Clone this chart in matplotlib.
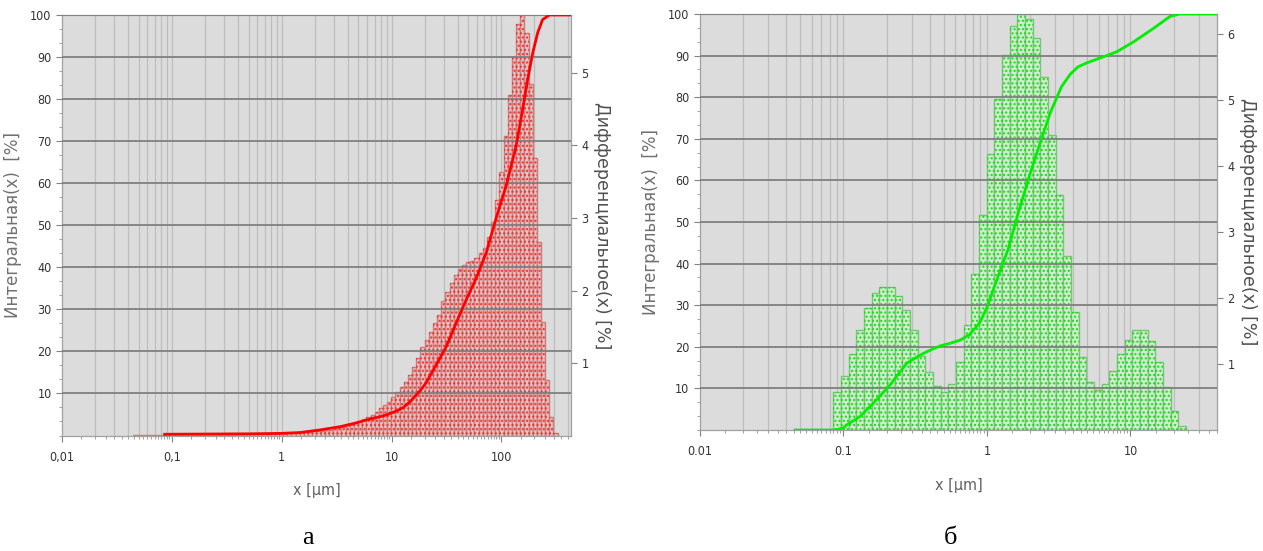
import numpy as np
import matplotlib.pyplot as plt
from matplotlib.ticker import FixedLocator, LogLocator, NullFormatter, MultipleLocator

plt.rcParams['hatch.linewidth'] = 1.0

# ---- panel a (red) ----
a_bin_lo, a_bin_hi = 0.0447, 325.0
a_diff = [0.012] * 9 + [0.017] * 21 + [
    0.023, 0.023, 0.026, 0.029, 0.029, 0.032, 0.035, 0.035,
    0.041, 0.044, 0.046, 0.049, 0.052, 0.058, 0.061, 0.064, 0.070,
    0.075, 0.087, 0.099, 0.116, 0.133, 0.145, 0.168, 0.191, 0.226, 0.261,
    0.284, 0.331, 0.377, 0.423, 0.464, 0.534, 0.603, 0.673, 0.742, 0.835,
    0.951, 1.067, 1.224, 1.317, 1.433, 1.549, 1.665, 1.850, 1.984, 2.105,
    2.216, 2.291, 2.355, 2.390, 2.413, 2.448, 2.523, 2.587, 2.743, 2.941,
    3.248, 3.631, 4.135, 4.698, 5.220, 5.678, 5.800, 5.556, 4.849, 3.828,
    2.668, 1.566, 0.766, 0.261, 0.029]
a_cum_x = [0.086, 0.5, 0.96, 1.46, 2.2, 3.4, 4.6, 5.9, 7.4, 9.0, 10.8, 12.7,
           14.4, 16.2, 18.4, 20.7, 25.5, 31.4, 38.7, 47.8, 58.9, 72.6, 92.4,
           110, 136, 156, 173, 193, 214, 237, 273, 430]
a_cum_y = [0.3, 0.4, 0.5, 0.7, 1.3, 2.1, 2.9, 3.7, 4.3, 4.9, 5.7, 6.6, 7.8,
           9.2, 10.8, 12.6, 16.8, 21.1, 26.7, 32.3, 37.4, 43.4, 52.9, 59.2,
           68.8, 77.5, 84.6, 91.0, 95.8, 98.9, 100, 100]
a_xticks = [0.01, 0.1, 1, 10, 100]
a_xlabels = ['0,01', '0,1', '1', '10', '100']
a_rticks = [1, 2, 3, 4, 5]

# ---- panel b (green) ----
b_bin_lo, b_bin_hi = 0.0458, 24.4
b_diff = [0.0] * 5 + [
    0.57, 0.82, 1.15, 1.52, 1.85, 2.08, 2.17, 2.17, 2.03, 1.81, 1.51, 1.12,
    0.88, 0.66, 0.57, 0.69, 1.03, 1.59, 2.36, 3.26, 4.18, 5.01, 5.68, 6.12,
    6.30, 6.22, 5.94, 5.34, 4.46, 3.56, 2.63, 1.78, 1.11, 0.72, 0.60, 0.70,
    0.89, 1.15, 1.37, 1.51, 1.51, 1.35, 1.03, 0.65, 0.29, 0.06]
b_cum_x = [0.046, 0.087, 0.1, 0.105, 0.13, 0.161, 0.211, 0.275, 0.33, 0.38,
           0.47, 0.56, 0.65, 0.76, 0.89, 1.0, 1.1, 1.25, 1.4, 1.65, 2.0, 2.34,
           2.75, 3.3, 3.8, 4.3, 5.0, 5.8, 8.0, 10.5, 14.4, 18.8, 22, 40]
b_cum_y = [0, 0, 0.5, 1.2, 3.2, 6.4, 10.8, 16, 17.7, 18.8, 20.2, 20.9, 21.6,
           23.0, 25.8, 29.5, 33.5, 38.8, 43.3, 52.1, 61.7, 68.9, 76.1, 82.5,
           85.5, 87.3, 88.3, 89.1, 90.9, 93.3, 96.5, 99.4, 100, 100]
b_xticks = [0.01, 0.1, 1, 10]
b_xlabels = ['0.01', '0.1', '1', '10']
b_rticks = [1, 2, 3, 4, 5, 6]


def draw_panel(fig, rect, xlim, rmax, lo, hi, diff, cx, cy, xticks, xlabels,
               rticks, line_c, face_c, hatch_c, edge_c):
    ax2 = fig.add_axes(rect)
    ax1 = ax2.twinx()
    ax1.set_zorder(ax2.get_zorder() + 1)
    ax1.patch.set_visible(False)
    ax2.set_facecolor('#dcdcdc')

    edges = np.geomspace(lo, hi, len(diff) + 1)
    ax2.bar(edges[:-1], diff, width=np.diff(edges), align='edge',
            color=face_c, edgecolor=edge_c, linewidth=1.0, zorder=2)
    ax2.bar(edges[:-1], diff, width=np.diff(edges), align='edge',
            color='none', edgecolor=hatch_c, hatch='....', linewidth=0, zorder=3)
    ax2.set_xscale('log')
    ax2.set_xlim(*xlim)
    ax2.set_ylim(0, rmax)

    # vertical grid on the back axes
    for dec in [0.01, 0.1, 1, 10, 100]:
        for m in range(1, 10):
            v = dec * m
            if xlim[0] < v < xlim[1]:
                ax2.axvline(v, color='#bdbdbd', lw=0.9, zorder=1)

    # cumulative curve on front axes
    ax1.plot(cx, cy, color=line_c, lw=2.0, zorder=5)
    ax1.set_ylim(0, 100)
    ax1.yaxis.set_major_locator(FixedLocator(range(10, 101, 10)))
    ax1.yaxis.set_minor_locator(MultipleLocator(10 / 3))
    for g in range(10, 101, 10):
        ax1.axhline(g, color='#7f7f7f', lw=1.3, zorder=4)

    ax1.yaxis.tick_left()
    ax1.yaxis.set_label_position('left')
    ax2.yaxis.tick_right()
    ax2.yaxis.set_label_position('right')
    ax2.yaxis.set_major_locator(FixedLocator(rticks))

    ax2.xaxis.set_major_locator(FixedLocator(xticks))
    ax2.set_xticklabels(xlabels)
    ax2.xaxis.set_minor_locator(LogLocator(base=10, subs=np.arange(1.5, 10, 0.5), numticks=20))
    ax2.xaxis.set_minor_formatter(NullFormatter())

    for a in (ax1, ax2):
        for s in a.spines.values():
            s.set_color('#a0a0a0')
        a.tick_params(colors='#808080', labelcolor='#333333', labelsize=9,
                      length=4, width=0.8)
        a.tick_params(which='minor', colors='#909090', length=2.5, width=0.6)
        for t in a.get_xticklabels() + a.get_yticklabels():
            t.set_fontstretch('condensed')
    ax2.tick_params(axis='x', pad=7)

    ax1.set_ylabel('Интегральная(x)  [%]', fontsize=12, color='#707070', labelpad=6)
    ax2.set_ylabel('Дифференциальное(x) [%]', fontsize=12.5, color='#505050',
                   rotation=270, labelpad=16)
    ax2.set_xlabel('x [µm]', fontsize=11.5, color='#606060', fontstretch='condensed',
                   labelpad=14)
    return ax1, ax2


fig = plt.figure(figsize=(12.63, 5.51), dpi=100)

draw_panel(fig, [0.0491, 0.2096, 0.4030, 0.7632], (0.01, 430), 5.8,
           a_bin_lo, a_bin_hi, a_diff, a_cum_x, a_cum_y, a_xticks, a_xlabels,
           a_rticks, '#ff0000', '#e2c2c2', '#f03030', '#d07a7a')
draw_panel(fig, [0.5542, 0.2196, 0.4093, 0.7550], (0.01, 40), 6.3,
           b_bin_lo, b_bin_hi, b_diff, b_cum_x, b_cum_y, b_xticks, b_xlabels,
           b_rticks, '#00ee00', '#d2ead0', '#10e010', '#78c478')

fig.text(308 / 1263, 1 - 538 / 551, 'а', fontsize=19, family='Liberation Serif',
         ha='center', va='center')
fig.text(951 / 1263, 1 - 538 / 551, 'б', fontsize=19, family='Liberation Serif',
         ha='center', va='center')

fig.savefig('out.png', dpi=100)
